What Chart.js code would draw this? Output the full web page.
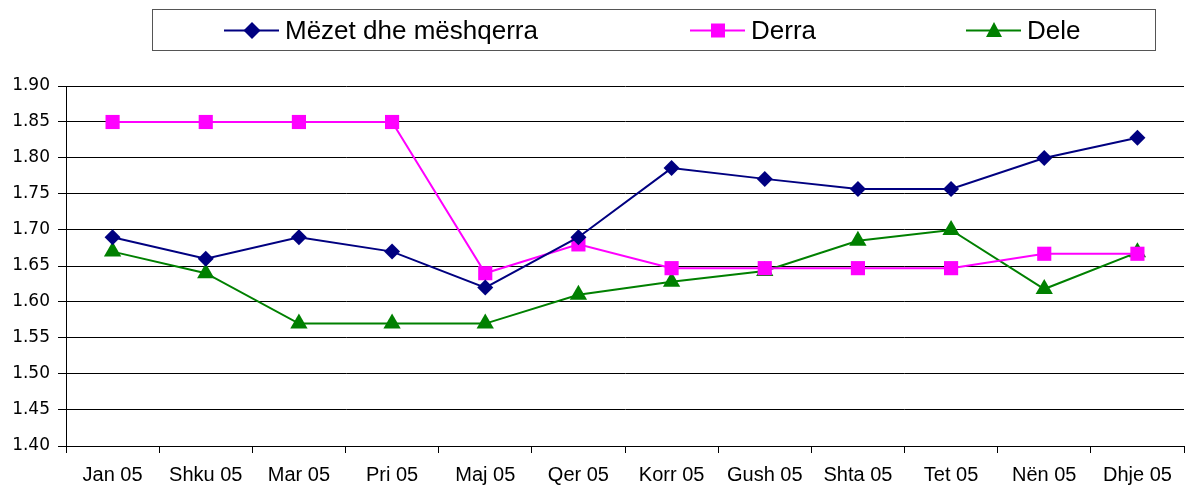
<!DOCTYPE html>
<html>
<head>
<meta charset="utf-8">
<script src="https://cdn.jsdelivr.net/npm/chart.js@4.4.0/dist/chart.umd.min.js"></script>
<style>
  html, body { margin: 0; padding: 0; background: #fff; }
  #wrap { position: relative; width: 1194px; height: 487px; }
  #legend { position: absolute; left: 152px; top: 9px; width: 1002px; height: 40px;
            border: 1px solid #555; box-sizing: content-box; font-family: "Liberation Sans", Arial, sans-serif; font-size: 26px; color: #000; }
  .item { position: absolute; top: 0; height: 40px; display: flex; align-items: center; white-space: nowrap; }
  .item svg { margin-right: 6px; }
</style>
</head>
<body>
<div id="wrap">
  <canvas id="c" width="1194" height="487"></canvas>
  <div id="legend"></div>
</div>
<script>
const categories = ["Jan 05", "Shku 05", "Mar 05", "Pri 05", "Maj 05", "Qer 05", "Korr 05", "Gush 05", "Shta 05", "Tet 05", "Nën 05", "Dhje 05"];
const mezet = [1.69, 1.66, 1.69, 1.67, 1.62, 1.69, 1.786, 1.771, 1.757, 1.757, 1.80, 1.828];
const derra = [1.85, 1.85, 1.85, 1.85, 1.64, 1.68, 1.647, 1.647, 1.647, 1.647, 1.667, 1.667];
const dele = [1.67, 1.64, 1.57, 1.57, 1.57, 1.61, 1.628, 1.643, 1.685, 1.70, 1.618, 1.669];
const seriesNames = ["Mëzet dhe mëshqerra", "Derra", "Dele"];
const yMin = 1.40, yMax = 1.90, yStep = 0.05;

const colors = ["#000080", "#FF00FF", "#008000"];
const styles = ["rectRot", "rect", "triangle"];
const radii = [8, 10, 10];

// HTML legend
const legendPos = [71, 537, 813];
const legend = document.getElementById('legend');
const svgMarker = (i) => {
  const c = colors[i];
  let m = '';
  if (i === 0) m = `<polygon points="28,2 36.5,10.5 28,19 19.5,10.5" fill="${c}"/>`;
  if (i === 1) m = `<rect x="21" y="3.5" width="14" height="14" fill="${c}"/>`;
  if (i === 2) m = `<polygon points="28,2 36,17 20,17" fill="${c}"/>`;
  return `<svg width="55" height="21"><line x1="0" y1="10.5" x2="55" y2="10.5" stroke="${c}" stroke-width="2"/>${m}</svg>`;
};
seriesNames.forEach((n, i) => {
  const d = document.createElement('div');
  d.className = 'item';
  d.style.left = legendPos[i] + 'px';
  d.innerHTML = svgMarker(i) + '<span>' + n + '</span>';
  legend.appendChild(d);
});

const datasets = [mezet, derra, dele].map((data, i) => ({
  label: seriesNames[i],
  data: data,
  borderColor: colors[i],
  backgroundColor: colors[i],
  borderWidth: 2,
  pointStyle: styles[i],
  pointRadius: radii[i],
  pointHoverRadius: radii[i],
  pointBorderWidth: 0,
  tension: 0
}));

new Chart(document.getElementById('c'), {
  type: 'line',
  data: { labels: categories, datasets: datasets },
  options: {
    responsive: false,
    animation: false,
    events: [],
    layout: { padding: { top: 86, right: 4, left: 0, bottom: 0 } },
    plugins: { legend: { display: false }, tooltip: { enabled: false } },
    scales: {
      x: {
        offset: true,
        grid: { offset: true, drawOnChartArea: false, drawTicks: true, tickLength: 7, color: '#000', lineWidth: 1 },
        border: { display: true, color: '#000', width: 1 },
        ticks: { color: '#000', font: { family: 'Liberation Sans', size: 20 }, padding: 10, maxRotation: 0, autoSkip: false },
        afterFit: (s) => { s.height = 41; }
      },
      y: {
        min: yMin, max: yMax,
        grid: { color: '#000', lineWidth: 1, tickLength: 8, drawTicks: true },
        border: { display: true, color: '#000', width: 1 },
        ticks: { stepSize: yStep, color: '#000', font: { family: 'DejaVu Sans', size: 17 }, padding: 8,
                 callback: (v) => Number(v).toFixed(2) },
        afterFit: (s) => { s.width = 66; }
      }
    }
  }
});
</script>
</body>
</html>
